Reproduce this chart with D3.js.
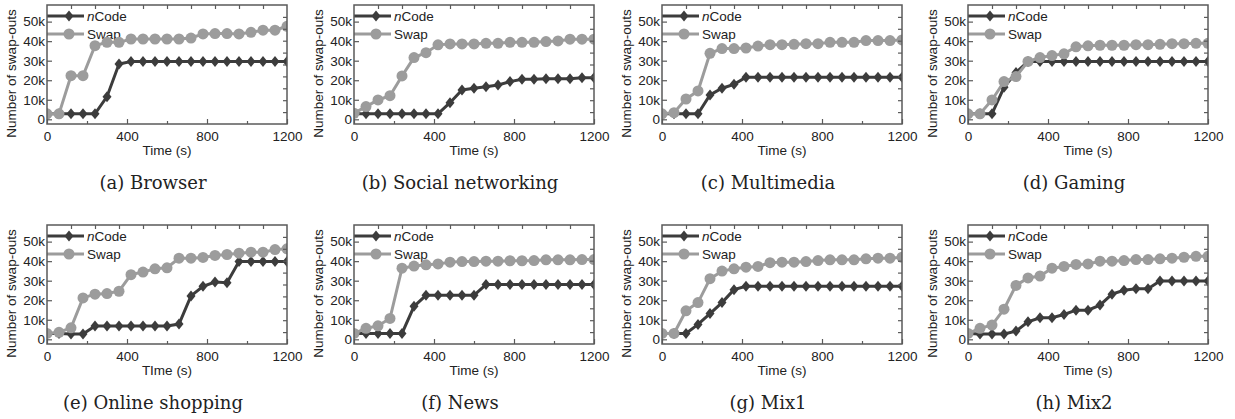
<!DOCTYPE html>
<html>
<head>
<meta charset="utf-8">
<script src="https://d3js.org/d3.v7.min.js"></script>
<style>
  body { margin: 0; background: #fff; }
  .tick text { font-family: "Liberation Sans", Arial, sans-serif; font-size: 13.5px; fill: #222; }
  .ttl { font-family: "Liberation Sans", Arial, sans-serif; font-size: 13.5px; fill: #222; }
  .cap { font-family: "DejaVu Serif", serif; font-size: 18px; fill: #222; }
</style>
</head>
<body>
<div id="chart"></div>
<script>
(function() {
  'use strict';

  // time samples (s)
  var times = [0, 60, 120, 180, 240, 300, 360, 420, 480, 540, 600, 660, 720, 780, 840, 900, 960, 1020, 1080, 1140, 1200];

  // swap-outs, in thousands
  var ncodeBrowser = [2.8, 2.8, 2.8, 2.8, 2.8, 11.6, 28.3, 29.6, 29.6, 29.6, 29.6, 29.6, 29.6, 29.6, 29.6, 29.6, 29.6, 29.6, 29.6, 29.6, 29.6];
  var swapBrowser  = [2.8, 2.8, 22.3, 22.3, 37.7, 39.4, 39.4, 41.1, 41.1, 41.1, 41.1, 41.1, 41.6, 43.7, 43.9, 43.9, 43.7, 44.5, 45.6, 45.6, 47.6];

  var ncodeSocial = [2.8, 2.8, 2.8, 2.8, 2.8, 2.8, 2.8, 2.8, 8.5, 15.0, 15.9, 16.7, 17.6, 19.3, 20.5, 20.5, 20.8, 20.8, 20.8, 21.3, 21.3];
  var swapSocial  = [3.1, 6.5, 9.9, 12.1, 22.2, 31.6, 34.1, 38.1, 38.6, 38.6, 38.6, 38.9, 38.9, 39.4, 39.4, 39.4, 39.8, 40.1, 41.0, 41.0, 41.0];

  var ncodeMultimedia = [2.8, 2.8, 2.8, 2.8, 12.5, 15.9, 17.9, 21.5, 21.5, 21.5, 21.5, 21.5, 21.5, 21.5, 21.5, 21.5, 21.5, 21.5, 21.5, 21.5, 21.5];
  var swapMultimedia  = [2.8, 3.4, 10.4, 14.5, 33.8, 36.2, 36.2, 36.5, 37.5, 38.2, 38.2, 38.4, 38.7, 38.7, 39.4, 39.4, 39.4, 40.3, 40.3, 40.3, 40.6];

  var ncodeGaming = [2.8, 2.8, 2.8, 16.4, 23.9, 29.6, 29.6, 29.6, 29.6, 29.6, 29.6, 29.6, 29.6, 29.6, 29.6, 29.6, 29.6, 29.6, 29.6, 29.6, 29.6];
  var swapGaming  = [2.8, 2.8, 9.9, 19.3, 21.9, 29.6, 31.6, 32.6, 33.5, 37.1, 37.6, 37.9, 37.9, 37.9, 38.2, 38.2, 38.4, 38.7, 38.7, 38.9, 38.9];

  var ncodeShopping = [3.0, 3.0, 2.7, 2.7, 6.8, 6.8, 6.8, 6.8, 6.8, 6.8, 6.8, 7.8, 22.2, 27.1, 29.3, 29.0, 39.8, 39.8, 39.8, 39.8, 39.8];
  var swapShopping  = [3.0, 3.6, 5.9, 21.2, 23.1, 23.4, 24.6, 33.1, 34.4, 36.1, 36.6, 41.5, 41.5, 41.9, 42.9, 43.4, 44.1, 44.6, 44.6, 45.9, 46.3];

  var ncodeNews = [3.0, 3.0, 3.0, 3.0, 3.0, 16.9, 22.5, 22.5, 22.5, 22.5, 22.5, 28.0, 28.0, 28.0, 28.0, 28.0, 28.0, 28.0, 28.0, 28.0, 28.0];
  var swapNews  = [3.0, 5.6, 6.9, 10.7, 36.4, 37.5, 38.1, 38.6, 39.5, 39.8, 39.8, 40.0, 40.0, 40.2, 40.2, 40.3, 40.7, 40.7, 40.7, 40.8, 40.8];

  var ncodeMix1 = [3.0, 3.0, 3.0, 7.6, 13.2, 18.8, 25.4, 27.1, 27.1, 27.1, 27.1, 27.1, 27.1, 27.1, 27.1, 27.1, 27.1, 27.1, 27.1, 27.1, 27.1];
  var swapMix1  = [3.0, 3.0, 14.6, 18.8, 31.0, 34.9, 36.1, 36.9, 37.3, 39.2, 39.5, 39.5, 39.8, 40.3, 40.7, 40.7, 40.7, 41.2, 41.5, 41.5, 42.0];

  var ncodeMix2 = [3.0, 2.7, 2.7, 2.7, 4.2, 9.0, 11.0, 11.0, 12.7, 14.9, 14.9, 17.5, 23.1, 25.1, 25.9, 25.9, 29.8, 29.8, 29.8, 29.8, 29.8];
  var swapMix2  = [3.0, 5.6, 7.3, 15.4, 27.6, 31.4, 32.4, 36.4, 37.3, 38.3, 38.6, 40.0, 40.0, 40.3, 40.8, 40.8, 41.2, 41.5, 42.0, 42.5, 42.5];

  var captions = ['(a) Browser', '(b) Social networking', '(c) Multimedia', '(d) Gaming',
                  '(e) Online shopping', '(f) News', '(g) Mix1', '(h) Mix2'];
  var xTitles = ['Time (s)', 'Time (s)', 'Time (s)', 'Time (s)', 'TIme (s)', 'Time (s)', 'Time (s)', 'Time (s)'];
  var ncodeSeries = [ncodeBrowser, ncodeSocial, ncodeMultimedia, ncodeGaming, ncodeShopping, ncodeNews, ncodeMix1, ncodeMix2];
  var swapSeries = [swapBrowser, swapSocial, swapMultimedia, swapGaming, swapShopping, swapNews, swapMix1, swapMix2];

  var xTicks = [0, 400, 800, 1200];
  var yTicks = [0, 10, 20, 30, 40, 50];

  var width = 1235, height = 419;
  var plotW = 240, plotH = 119;
  var colLeft = [47, 354, 662, 968];
  var rowTop = [5, 225];
  var yDomain = [-2.4, 58.5];
  var darkColor = '#3c3c3c', lightColor = '#9c9c9c', frameColor = '#5a5a5a';

  var svg = d3.select('#chart').append('svg')
    .attr('width', width).attr('height', height);
  svg.append('rect').attr('width', width).attr('height', height).attr('fill', '#fff');

  var x = d3.scaleLinear().domain([0, 1200]).range([0, plotW]);
  var y = d3.scaleLinear().domain(yDomain).range([plotH, 0]);

  var line = d3.line()
    .x(function(d) { return x(d.t); })
    .y(function(d) { return y(d.v); });

  var diamond = 'M0,-5.5L4.5,0L0,5.5L-4.5,0Z';

  svg.append('defs').append('clipPath').attr('id', 'plotclip')
    .append('rect').attr('width', plotW).attr('height', plotH);

  captions.forEach(function(cap, i) {
    var left = colLeft[i % 4], top = rowTop[Math.floor(i / 4)];
    var g = svg.append('g').attr('transform', 'translate(' + left + ',' + top + ')');

    var ncode = times.map(function(t, k) { return { t: t, v: ncodeSeries[i][k] }; });
    var swap = times.map(function(t, k) { return { t: t, v: swapSeries[i][k] }; });

    // legend (behind data)
    var leg = g.append('g');
    [{ y: 11, c: darkColor, shape: 'd', label: 'nCode' }, { y: 29, c: lightColor, shape: 'c', label: 'Swap' }]
      .forEach(function(l) {
        leg.append('line').attr('x1', 0).attr('x2', 37).attr('y1', l.y).attr('y2', l.y)
          .attr('stroke', l.c).attr('stroke-width', 3);
        if (l.shape === 'd') {
          leg.append('path').attr('d', diamond).attr('fill', l.c)
            .attr('transform', 'translate(22,' + l.y + ')');
        } else {
          leg.append('circle').attr('cx', 22).attr('cy', l.y).attr('r', 5.5).attr('fill', l.c);
        }
        var txt = leg.append('text').attr('class', 'ttl').attr('x', 40).attr('y', l.y + 5);
        if (l.label === 'nCode') {
          txt.append('tspan').attr('font-style', 'italic').text('n');
          txt.append('tspan').text('Code');
        } else {
          txt.text(l.label);
        }
      });

    var data = g.append('g').attr('clip-path', 'url(#plotclip)');

    data.append('path').datum(ncode).attr('d', line)
      .attr('fill', 'none').attr('stroke', darkColor).attr('stroke-width', 3);
    data.selectAll('.dm').data(ncode).enter().append('path')
      .attr('class', 'dm').attr('d', diamond).attr('fill', darkColor)
      .attr('transform', function(d) { return 'translate(' + x(d.t) + ',' + y(d.v) + ')'; });

    data.append('path').datum(swap).attr('d', line)
      .attr('fill', 'none').attr('stroke', lightColor).attr('stroke-width', 3);
    data.selectAll('.ci').data(swap).enter().append('circle')
      .attr('class', 'ci').attr('r', 5.5).attr('fill', lightColor)
      .attr('cx', function(d) { return x(d.t); })
      .attr('cy', function(d) { return y(d.v); });

    // axes
    g.append('g').attr('transform', 'translate(0,' + plotH + ')')
      .call(d3.axisBottom(x).tickValues(xTicks).tickSizeInner(-5).tickSizeOuter(0).tickPadding(7)
        .tickFormat(d3.format('d')));
    g.append('g').attr('transform', 'translate(0,' + plotH + ')')
      .call(d3.axisBottom(x).tickValues([200, 600, 1000]).tickSizeInner(-3).tickSizeOuter(0).tickFormat(''));
    g.append('g')
      .call(d3.axisTop(x).tickValues(d3.range(120, 1200, 120)).tickSizeInner(-4).tickSizeOuter(0).tickFormat(''));
    g.append('g')
      .call(d3.axisLeft(y).tickValues(yTicks).tickSizeInner(-5).tickSizeOuter(0).tickPadding(2)
        .tickFormat(function(d) { return d === 0 ? '0' : d + 'k'; }));
    var yStep = (yDomain[1] - yDomain[0]) / 10;
    g.append('g').attr('transform', 'translate(' + plotW + ',0)')
      .call(d3.axisRight(y).tickValues(d3.range(1, 10).map(function(k) { return yDomain[0] + k * yStep; }))
        .tickSizeInner(-4).tickSizeOuter(0).tickFormat(''));

    g.selectAll('.domain').remove();
    g.selectAll('.tick line').attr('stroke', frameColor).attr('stroke-width', 1.2);

    g.append('rect').attr('width', plotW).attr('height', plotH)
      .attr('fill', 'none').attr('stroke', frameColor).attr('stroke-width', 1.5);

    // titles
    g.append('text').attr('class', 'ttl').attr('text-anchor', 'middle')
      .attr('x', plotW / 2).attr('y', plotH + 30.5).text(xTitles[i]);
    g.append('text').attr('class', 'ttl').attr('text-anchor', 'middle')
      .attr('transform', 'translate(-31.5,' + (plotH / 2 + 9) + ') rotate(-90)')
      .text('Number of swap-outs');
    g.append('text').attr('class', 'cap').attr('text-anchor', 'middle')
      .attr('x', 106).attr('y', 184).text(cap);
  });
})();
</script>
</body>
</html>
